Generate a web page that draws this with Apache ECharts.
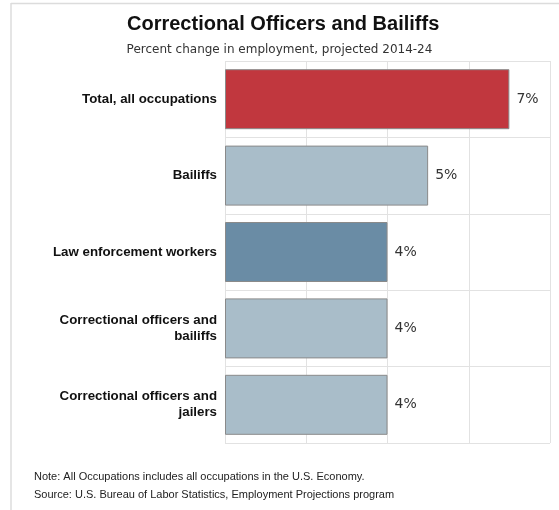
<!DOCTYPE html>
<html>
<head>
<meta charset="utf-8">
<script src="https://cdn.jsdelivr.net/npm/echarts@6/dist/echarts.min.js"></script>
<style>
  html, body { margin: 0; padding: 0; background: #fff; }
  #chart { width: 559px; height: 510px; }
</style>
</head>
<body>
<div id="chart"></div>
<script>
var categories = ['Total, all occupations', 'Bailiffs', 'Law enforcement workers', 'Correctional officers and\nbailiffs', 'Correctional officers and\njailers'];
var values = [7, 5, 4, 4, 4];
var barColors = ['#c1373e', '#a9bdc9', '#6a8ca5', '#a9bdc9', '#a9bdc9'];
var xTicks = [0, 2, 4, 6, 8];

function barChart() {
  var myChart = echarts.init(document.getElementById('chart'));
  var option = {
    animation: false,
    title: [
      {
        text: 'Correctional Officers and Bailiffs',
        left: 122,
        top: 9,
        textStyle: { fontFamily: 'Liberation Sans', fontWeight: 'bold', fontSize: 20, color: '#111' }
      },
      {
        text: 'Percent change in employment, projected 2014-24',
        left: 'center',
        top: 39,
        textStyle: { fontFamily: 'DejaVu Sans', fontWeight: 'normal', fontSize: 12, color: '#333' }
      }
    ],
    grid: { left: 225, top: 61, width: 325, height: 382, containLabel: false },
    xAxis: {
      type: 'value',
      min: xTicks[0],
      max: xTicks[xTicks.length - 1],
      interval: 2,
      axisLabel: { show: false },
      axisLine: { show: false },
      axisTick: { show: false },
      splitLine: { show: true, lineStyle: { color: '#e2e2e2', width: 1 } }
    },
    yAxis: {
      type: 'category',
      inverse: true,
      data: categories,
      axisLine: { show: false },
      axisTick: { show: false },
      splitLine: { show: true, lineStyle: { color: '#e2e2e2', width: 1 } },
      axisLabel: {
        margin: 8,
        fontFamily: 'Liberation Sans',
        fontWeight: 'bold',
        fontSize: 13.3,
        lineHeight: 16,
        color: '#111',
        align: 'right'
      }
    },
    series: [
      {
        type: 'bar',
        barWidth: 60,
        data: values.map(function (v, i) {
          return { value: v, itemStyle: { color: barColors[i] } };
        }),
        itemStyle: { borderColor: '#8a8a8a', borderWidth: 1 },
        label: {
          show: true,
          position: 'right',
          distance: 7,
          formatter: '{c}%',
          fontFamily: 'DejaVu Sans',
          fontSize: 14,
          color: '#333'
        }
      }
    ],
    graphic: [
      { type: 'line', shape: { x1: 11, y1: 3.5, x2: 559, y2: 3.5 }, style: { stroke: '#dcdcdc', lineWidth: 1.5 } },
      { type: 'line', shape: { x1: 11, y1: 3, x2: 11, y2: 510 }, style: { stroke: '#dcdcdc', lineWidth: 1.5 } },
      {
        type: 'text', left: 34, top: 471,
        style: { text: 'Note: All Occupations includes all occupations in the U.S. Economy.', font: '11px "Liberation Sans"', fill: '#222' }
      },
      {
        type: 'text', left: 34, top: 489,
        style: { text: 'Source: U.S. Bureau of Labor Statistics, Employment Projections program', font: '11px "Liberation Sans"', fill: '#222' }
      }
    ]
  };
  myChart.setOption(option);
}
barChart();
</script>
</body>
</html>
